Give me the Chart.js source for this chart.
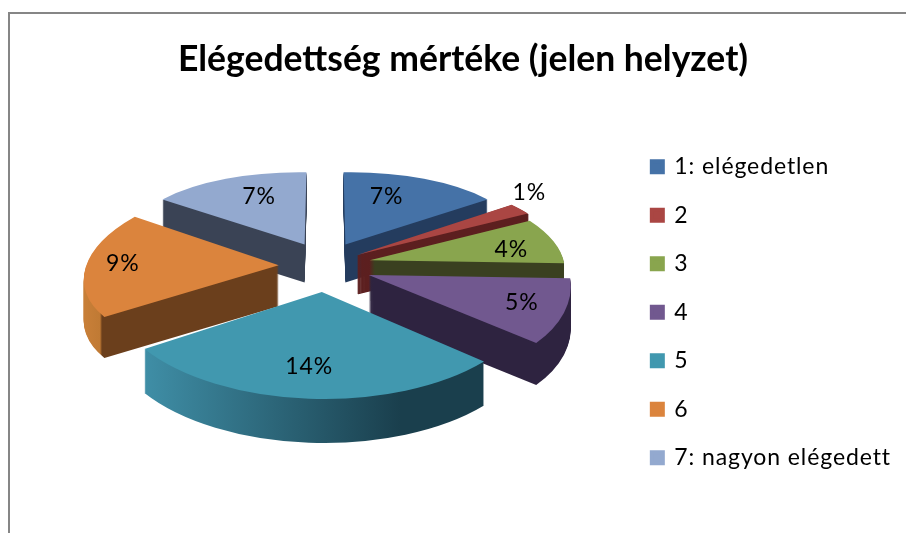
<!DOCTYPE html>
<html><head><meta charset="utf-8">
<style>html,body{margin:0;padding:0;background:#fff}#w{width:906px;height:533px}</style>
<script src="https://cdn.jsdelivr.net/npm/chart.js@4/dist/chart.umd.min.js"></script>
</head><body><div id="w"><canvas id="c" width="906" height="533"></canvas></div>
<script>
const categories = ["1: elégedetlen","2","3","4","5","6","7: nagyon elégedett"];
const percents = [7,1,4,5,14,9,7];
const topColors = ["#4572A7","#AA4643","#89A54E","#71588F","#4198AF","#DB843D","#93A9CF"];
const wallStops = [
  [[0,"#243c5e"],[906,"#243c5e"]],
  [[0,"#5c1f1f"],[906,"#5c1f1f"]],
  [[0,"#3a4020"],[906,"#3a4020"]],
  [[0,"#2e2340"],[906,"#2e2340"]],
  [[145,"#3f8ea6"],[400,"#1a3f4d"],[490,"#1a3f4d"]],
  [[85,"#c87f38"],[100,"#c07a34"],[102,"#6b3f1c"],[300,"#6b3f1c"]],
  [[0,"#3a4355"],[906,"#3a4355"]]
];
const wallOutline = [0,2,0,0,0,0,0];
const labelRadius = [0.67,1.24,0.76,0.81,0.69,0.81,0.68];
const labelTurnDeg = [-6,-7,4,0,1,-1,4];
const explodeScale = [1,0.85,1,1,1,1,1];
const radiusScale = [1,1.08,1.01,1.03,1,1,1];
const view = {cx:325,cy:266,A:89,B:193,p:0.15,px:0.1,explodeX:0.24,explodeY:0.28,depth:41};

function project(u,v){return [view.cx+view.B*u/(1-view.px*v),view.cy+view.A*v/(1-view.p*v)];}
function sliceMatrix(el,i){
  const a=el.startAngle,b=el.endAngle,m=(a+b)/2,R=el.outerRadius,rs=radiusScale[i];
  const ex=view.explodeX*explodeScale[i]*Math.cos(m),ey=view.explodeY*explodeScale[i]*Math.sin(m);
  const T=project(ex,ey),S=project(ex+rs*Math.cos(a),ey+rs*Math.sin(a)),E=project(ex+rs*Math.cos(b),ey+rs*Math.sin(b));
  const dsx=S[0]-T[0],dsy=S[1]-T[1],dex=E[0]-T[0],dey=E[1]-T[1];
  const c11=R*Math.cos(a),c12=R*Math.cos(b),c21=R*Math.sin(a),c22=R*Math.sin(b),det=c11*c22-c12*c21;
  const i11=c22/det,i12=-c12/det,i21=-c21/det,i22=c11/det;
  const m11=dsx*i11+dex*i21,m12=dsx*i12+dex*i22,m21=dsy*i11+dey*i21,m22=dsy*i12+dey*i22;
  return {m11,m12,m21,m22,tx:T[0]-(m11*el.x+m12*el.y),ty:T[1]-(m21*el.x+m22*el.y),T};
}
function wallGradient(ctx,el,M,stops){
  const n=M.m11*M.m11+M.m12*M.m12,x0=stops[0][0],x1=stops[stops.length-1][0];
  const sx=t=>[el.x+M.m11*(t-M.T[0])/n,el.y+M.m12*(t-M.T[0])/n];
  const p0=sx(x0),p1=sx(x1),g=ctx.createLinearGradient(p0[0],p0[1],p1[0],p1[1]);
  stops.forEach(s=>g.addColorStop((s[0]-x0)/(x1-x0),s[1]));
  return g;
}
const pie3d={id:'pie3d',
  beforeLayout(chart){chart.ctx.letterSpacing="0.9px";},
  beforeDraw(chart){
    const c=chart.ctx;c.letterSpacing="0.9px";
    const tb=chart.titleBlock;
    if(tb&&!tb._plain){const d=tb.draw;tb.draw=function(...a){const o=c.letterSpacing;c.letterSpacing="0px";d.apply(tb,a);c.letterSpacing=o;};tb._plain=true;}
    c.save();c.fillStyle="#868686";c.fillRect(8,12,898,2);c.fillRect(8,12,2,521);c.restore();
  },
  beforeDatasetDraw(chart,args){
    const ctx=chart.ctx,els=chart.getDatasetMeta(args.index).data;
    const mid=e=>(e.startAngle+e.endAngle)/2;
    const order=els.map((e,i)=>i).sort((i,j)=>Math.sin(mid(els[i]))-Math.sin(mid(els[j])));
    order.forEach(i=>{
      const el=els[i],M=sliceMatrix(el,i),fill=wallGradient(ctx,el,M,wallStops[i]);
      const proxy=Object.create(el,{options:{value:Object.assign({},el.options,{backgroundColor:fill,borderColor:fill,borderWidth:wallOutline[i]})}});
      const depth=Math.round(view.depth*(1+0.07*Math.sin(mid(el))));
      for(let d=depth;d>=1;d--){
        ctx.save();ctx.translate(0,d);ctx.transform(M.m11,M.m21,M.m12,M.m22,M.tx,M.ty);proxy.draw(ctx);ctx.restore();
      }
    });
    order.forEach(i=>{
      const el=els[i],M=sliceMatrix(el,i);
      ctx.save();ctx.transform(M.m11,M.m21,M.m12,M.m22,M.tx,M.ty);el.draw(ctx);ctx.restore();
    });
    return false;
  },
  afterDatasetsDraw(chart){
    const ctx=chart.ctx,els=chart.getDatasetMeta(0).data;
    ctx.save();ctx.fillStyle="#000";ctx.font="23px Lato";ctx.textAlign="center";ctx.textBaseline="middle";
    els.forEach((el,i)=>{
      const m=(el.startAngle+el.endAngle)/2,t=m+labelTurnDeg[i]*Math.PI/180,r=labelRadius[i];
      const P=project(view.explodeX*Math.cos(m)+r*Math.cos(t),view.explodeY*Math.sin(m)+r*Math.sin(t));
      ctx.fillText(percents[i]+"%",P[0],P[1]);
    });
    ctx.restore();
  }
};
new Chart(document.getElementById('c'),{
  type:'pie',
  plugins:[pie3d],
  data:{labels:categories,datasets:[{data:percents,backgroundColor:topColors,borderWidth:0,hoverOffset:0}]},
  options:{
    responsive:false,animation:false,
    layout:{padding:{left:25,right:5,top:38,bottom:3}},
    plugins:{
      tooltip:{enabled:false},
      title:{display:true,text:"Elégedettség mértéke (jelen helyzet)",color:"#000",font:{family:"Lato",size:35.5,weight:"bold"},padding:{top:0,bottom:14}},
      legend:{position:'right',fullSize:false,labels:{color:"#000",font:{family:"Lato",size:23},boxWidth:11,boxHeight:11,padding:25.5,
        generateLabels(chart){return Chart.overrides.pie.plugins.legend.labels.generateLabels(chart).map(l=>Object.assign(l,{lineWidth:4,strokeStyle:l.fillStyle}));}
      }}
    }
  }
});
</script></body></html>
